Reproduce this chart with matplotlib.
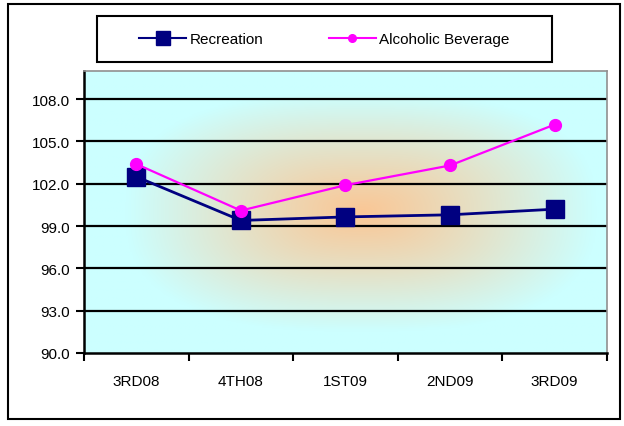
import numpy as np
import matplotlib
matplotlib.use("Agg")
import matplotlib.pyplot as plt
from matplotlib.colors import to_rgb
from matplotlib.lines import Line2D
from matplotlib.patches import Rectangle

plt.rcParams['font.family'] = ['Liberation Sans', 'DejaVu Sans']

# data
quarters = ["3RD08", "4TH08", "1ST09", "2ND09", "3RD09"]
recreation = [102.5, 99.4, 99.65, 99.8, 100.2]
alcoholic = [103.4, 100.1, 101.9, 103.3, 106.2]
yticks = [90.0, 93.0, 96.0, 99.0, 102.0, 105.0, 108.0]

fig = plt.figure(figsize=(6.24, 4.27), dpi=100)
ax = fig.add_axes([0.1346, 0.171, 0.8381, 0.6604])

# gradient background: cyan edges, orange centre (soft rectangle from the centre)
edge = np.array(to_rgb("#CCFFFF"))
centre = np.array(to_rgb("#FAC796"))
u = np.linspace(-1, 1, 400)
v = np.linspace(-1, 1, 250)
U, V = np.meshgrid(u, v)
p = 2.6
r = (np.abs((U - 0.06) / 0.9) ** p + np.abs(V / 0.85) ** p) ** (1 / p)
t = np.clip(r, 0, 1) ** 1.1
img = centre[None, None, :] * (1 - t[..., None]) + edge[None, None, :] * t[..., None]
ax.imshow(img, extent=[0, 1, 0, 1], transform=ax.transAxes, aspect='auto', zorder=0)

x = np.arange(len(quarters))
ax.plot(x, recreation, color='#000080', lw=2, marker='s', ms=13, zorder=3, label='Recreation')
ax.plot(x, alcoholic, color='#FF00FF', lw=1.6, marker='o', ms=8.5, zorder=4, label='Alcoholic Beverage')

ax.set_xlim(-0.5, len(quarters) - 0.5)
ax.set_ylim(90, 110)
ax.set_yticks(yticks)
ax.set_yticklabels([f"{v:.1f}" for v in yticks], fontsize=11)
for yv in yticks[1:]:
    ax.axhline(yv, color='black', lw=1.6, zorder=1)

ax.set_xticks(np.arange(-0.5, len(quarters), 1.0))
ax.set_xticklabels([])
ax.set_xticks(x, minor=True)
ax.set_xticklabels(quarters, minor=True, fontsize=11)
ax.tick_params(axis='x', which='major', direction='out', length=6, width=1.5)
ax.tick_params(axis='x', which='minor', length=0, pad=15)
ax.tick_params(axis='y', direction='out', length=6, width=1.5, pad=4)

for side in ['left', 'bottom']:
    ax.spines[side].set_color('black')
    ax.spines[side].set_linewidth(1.8)
for side in ['top', 'right']:
    ax.spines[side].set_color('#909090')
    ax.spines[side].set_linewidth(1.2)

# legend box
fig.patches.append(Rectangle((0.155, 0.8525), 0.729, 0.1075, transform=fig.transFigure,
                             fill=False, edgecolor='black', lw=1.5))
handles = [
    Line2D([], [], color='#000080', lw=1.5, marker='s', ms=10),
    Line2D([], [], color='#FF00FF', lw=1.5, marker='o', ms=5.5),
]
fig.legend(handles, ['Recreation', 'Alcoholic Beverage'], ncol=2, frameon=False,
           loc='center', bbox_to_anchor=(0.155 + 0.729 / 2, 0.8525 + 0.1075 / 2),
           fontsize=11, handlelength=3.1, handletextpad=0.2, columnspacing=4.3)

# outer border
fig.patches.append(Rectangle((0.0128, 0.0164), 0.981, 0.9716, transform=fig.transFigure,
                             fill=False, edgecolor='black', lw=1.5))

fig.savefig('out.png', dpi=100)
